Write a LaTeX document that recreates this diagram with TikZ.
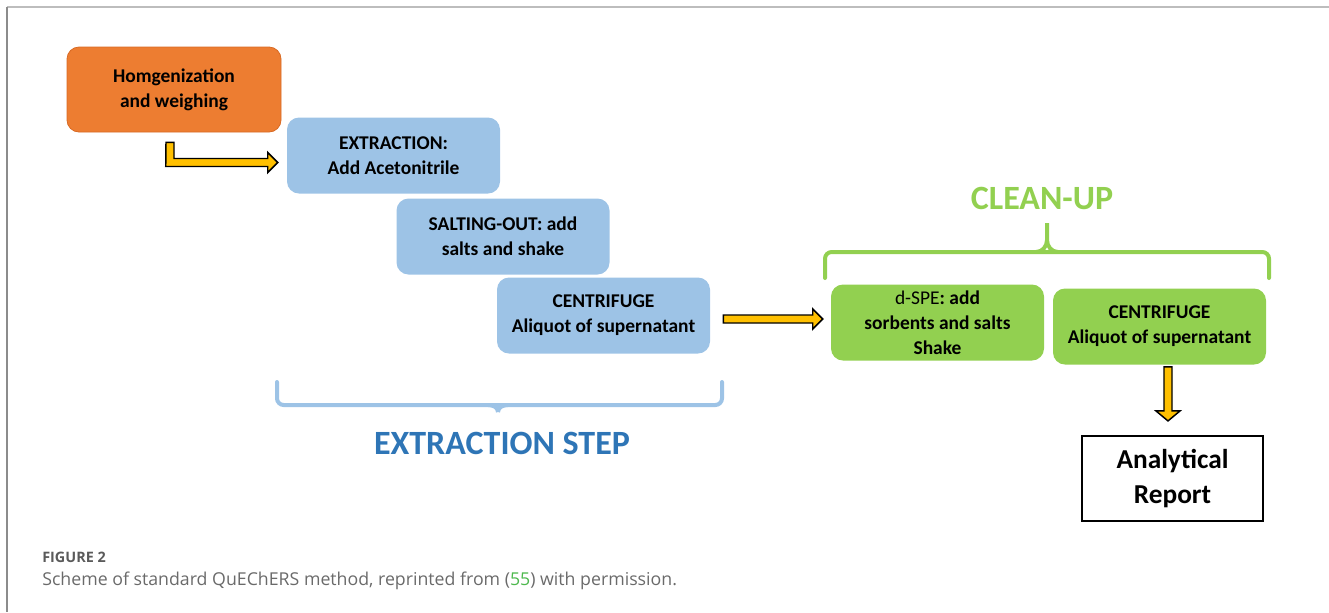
\documentclass[tikz,border=0pt]{standalone}
\usepackage{fontspec}
\setmainfont{Carlito}
\newfontfamily\capfont{Open Sans}
\usetikzlibrary{calc}
\definecolor{orangebox}{HTML}{ED7D31}
\definecolor{orangeedge}{HTML}{D86A24}
\definecolor{bluebox}{HTML}{9DC3E6}
\definecolor{greenbox}{HTML}{92D050}
\definecolor{gold}{HTML}{FFC000}
\definecolor{stepblue}{HTML}{2E75B6}
\definecolor{capgray}{HTML}{6A6A6A}
\definecolor{figgray}{HTML}{5A5A5A}
\definecolor{refgreen}{HTML}{4DB84D}
\definecolor{framegray}{HTML}{BDBDBD}
\begin{document}
\begin{tikzpicture}[x=0.75pt,y=-0.75pt,
  box/.style={rounded corners=9pt, align=center, text=black,
    font=\fontsize{14.6}{18.75}\selectfont\bfseries, inner sep=0pt,
    minimum width=159.75pt, minimum height=57pt},
  orangestep/.style={box, fill=orangebox, draw=orangeedge, line width=0.6pt, minimum width=160.5pt, minimum height=63.75pt},
  bluestep/.style={box, fill=bluebox},
  greenstep/.style={box, fill=greenbox},
  reportbox/.style={draw=black, line width=1.6pt, fill=white, align=center,
    font=\fontsize{20.5}{26}\selectfont\bfseries, inner sep=0pt,
    minimum width=135.75pt, minimum height=63.75pt},
  barrow/.style={fill=gold, draw=black, line width=1.1pt, line join=miter},
  bluebrace/.style={draw=bluebox, line width=3pt, rounded corners=5pt, line cap=round},
  greenbrace/.style={draw=greenbox, line width=3pt, rounded corners=5pt, line cap=round},
  heading/.style={font=\fontsize{25.5}{30}\selectfont\bfseries, inner sep=0pt}
]
\useasboundingbox (0,0) rectangle (1329,612);
% frame
\draw[framegray, line width=1.5pt] (7,7) -- (1329,7);
\draw[gray!90, line width=0.8pt] (7,7) -- (7,612);

% boxes
\node[orangestep] (hom) at (174,89.5) {Homgenization\\and weighing};
\node[bluestep] (ext) at (393.5,155.5) {EXTRACTION:\\Add Acetonitrile};
\node[bluestep] (salt) at (503,236.5) {SALTING-OUT: add\\salts and shake};
\node[bluestep] (cent) at (603.5,315.5) {CENTRIFUGE\\Aliquot of supernatant};
\node[greenstep] (dspe) at (937.5,322.5) {{\mdseries d-SPE}: add\\sorbents and salts\\Shake};
\node[greenstep] (cent2) at (1159.5,326.5) {CENTRIFUGE\\Aliquot of supernatant};
\node[reportbox] (report) at (1172.5,478.5) {Analytical\\Report};

% elbow arrow
\coordinate (e0) at ($(hom.south)+(-4,10)$);
\coordinate (e1) at ($(ext.west)+(-9,7)$);
\draw[barrow] ($(e0)+(-4,0)$) -- ($(e0)+(4,0)$) |- ($(e1)+(-10,-4)$) -- ($(e1)+(-10,-10)$)
  -- (e1) -- ($(e1)+(-10,10)$) -- ($(e1)+(-10,4)$) -- ($(e1)+(-112,4)$) -- cycle;

% right arrow
\coordinate (r0) at ($(cent.east)+(13,3.5)$);
\coordinate (r1) at ($(dspe.west)+(-8,-3.5)$);
\draw[barrow] ($(r0)+(0,-4)$) -- ($(r1)+(-10,-4)$) -- ($(r1)+(-10,-10)$) -- (r1)
  -- ($(r1)+(-10,10)$) -- ($(r1)+(-10,4)$) -- ($(r0)+(0,4)$) -- cycle;

% down arrow
\coordinate (d0) at ($(cent2.south)+(8.5,2)$);
\coordinate (d1) at ($(report.north)+(-4.5,-14)$);
\draw[barrow] ($(d0)+(-4,0)$) -- ($(d1)+(-4,-10)$) -- ($(d1)+(-12,-10)$) -- (d1)
  -- ($(d1)+(12,-10)$) -- ($(d1)+(4,-10)$) -- ($(d0)+(4,0)$) -- cycle;

% clean-up brace and title
\node[heading, text=greenbox] (clean) at (1042,198) {CLEAN-UP};
\draw[greenbrace] (825,278) -- (825,252) -- (1269,252) -- (1269,278);
\draw[draw=greenbox, line width=3pt] (1036,252) to[out=0,in=-90] (1047,240) -- (1047,223);
\draw[draw=greenbox, line width=3pt] (1058,252) to[out=180,in=-90] (1047,240);

% extraction brace and title
\draw[bluebrace] (277,382) -- (277,405) -- (722,405) -- (722,382);
\draw[draw=bluebox, line width=3pt] (488,405) to[out=0,in=90] (498,412);
\draw[draw=bluebox, line width=3pt] (508,405) to[out=180,in=90] (498,412);
\node[heading, text=stepblue] (step) at (502,443) {EXTRACTION STEP};

% caption
\node[anchor=base west, inner sep=0pt, text=figgray, font=\capfont\fontsize{10.8}{12}\selectfont\bfseries] (fig) at (42,562.5) {FIGURE 2};
\node[anchor=base west, inner sep=0pt, text=capgray, font=\capfont\fontsize{13.3}{16}\selectfont] (cap) at (42,585.5) {Scheme of standard QuEChERS method, reprinted from ({\color{refgreen}55}) with permission.};
\end{tikzpicture}
\end{document}
